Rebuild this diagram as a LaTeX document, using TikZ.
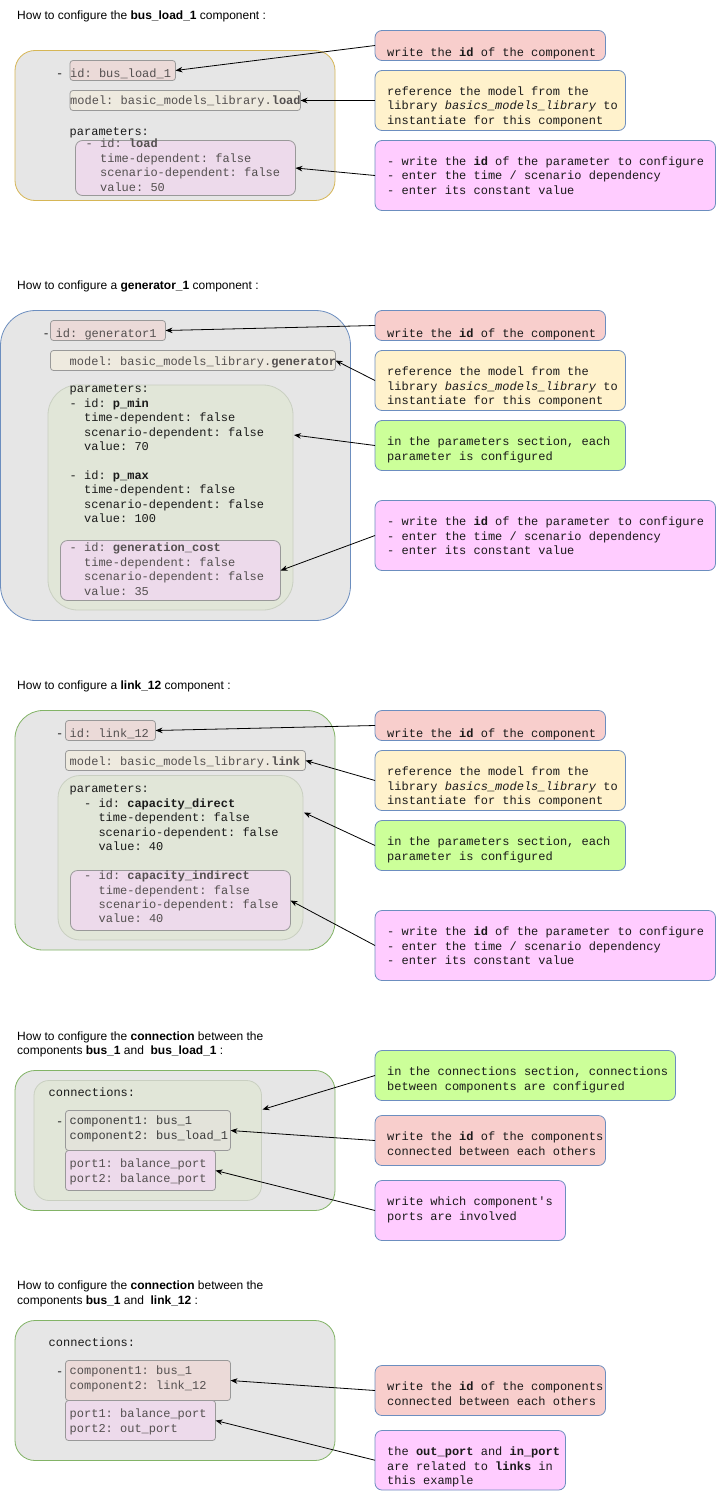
\documentclass[tikz,border=0pt]{standalone}
\usepackage{fontspec}
\setmainfont{Liberation Sans}
\setmonofont{Liberation Mono}
\usetikzlibrary{fit,calc,arrows.meta}
\definecolor{outergrey}{HTML}{E6E6E6}
\definecolor{ybord}{HTML}{D6B656}
\definecolor{bbord}{HTML}{6C8EBF}
\definecolor{gbord}{HTML}{82B366}
\definecolor{idfill}{HTML}{EBDAD8}
\definecolor{modfill}{HTML}{EEEADF}
\definecolor{parfill}{HTML}{EDDAEB}
\definecolor{grnfill}{HTML}{E1E6D8}
\definecolor{grnline}{HTML}{C9CFC1}
\definecolor{cmpfill}{HTML}{E3E3DA}
\definecolor{smline}{HTML}{999999}
\definecolor{redbox}{HTML}{F8CECC}
\definecolor{yelbox}{HTML}{FFF2CC}
\definecolor{pinkbox}{HTML}{FFCCFF}
\definecolor{limebox}{HTML}{CCFF99}
\definecolor{darktxt}{HTML}{1A1A1A}
\definecolor{greytxt}{HTML}{545050}
\tikzset{
  bx/.style={inner sep=0pt, outer sep=0pt, line width=0.8pt},
  outerbox/.style={bx, draw, fill=outergrey, rounded corners=#1},
  grnbox/.style={bx, draw=grnline, fill=grnfill, rounded corners=#1},
  smbox/.style={bx, draw=smline, fill=#1, rounded corners=3pt},
  notebox/.style={bx, draw=bbord, fill=#1, rounded corners=7pt},
  mtxt/.style={anchor=north west, inner sep=0pt, align=left, text=#1,
    font=\ttfamily\fontsize{12}{14.4}\selectfont, execute at begin node=\strut},
  mtxt/.default=darktxt,
  ttl/.style={anchor=north west, inner sep=0pt, align=left, text=black,
    font=\fontsize{12}{14.4}\selectfont, execute at begin node=\strut},
  arr/.style={-{Stealth[length=7pt,width=5.5pt]}, line width=0.8pt, black},
}
\newcommand{\ind}{\phantom{- }}
\begin{document}
\begin{tikzpicture}[x=1pt,y=-1pt]
\useasboundingbox (0,0) rectangle (716,1491);

% ---------------- Section 1 ----------------
\node[ttl] (t1) at (17,9) {How to configure the \textbf{bus\_load\_1} component :};
\node[outerbox=20pt, draw=ybord, fit={(15,50.5) (335,200.5)}] (o1) {};
\node[mtxt] (d1) at (56,67) {-};
\node[smbox=idfill, fit={(70,60.5) (175.5,80.5)}] (id1) {};
\node[mtxt=greytxt] (id1t) at (70,67) {id: bus\_load\_1};
\node[smbox=modfill, fit={(70,90.5) (300.5,110.5)}] (m1) {};
\node[mtxt=greytxt] (m1t) at (70,94.5) {model: basic\_models\_library.\textbf{load}};
\node[mtxt] (pp1) at (69.5,125) {parameters:};
\node[smbox=parfill, rounded corners=7pt, fit={(75.5,140.5) (295.5,195.5)}] (p1) {};
\node[mtxt=greytxt] (p1t) at (85.5,139) {- id: \textbf{load}\\\ind time-dependent: false\\\ind scenario-dependent: false\\\ind value: 50};

\node[notebox=redbox, fit={(375,30.5) (605.5,60.5)}] (a1) {};
\node[mtxt] (a1t) at (387,46.7) {write the \textbf{id} of the component};
\node[notebox=yelbox, fit={(375,70.5) (625.5,130.5)}] (a2) {};
\node[mtxt] (a2t) at (387,86.7) {reference the model from the\\library \textit{basics\_models\_library} to\\instantiate for this component};
\node[notebox=pinkbox, fit={(375,140.5) (715.5,210.5)}] (a3) {};
\node[mtxt] (a3t) at (387,156.7) {- write the \textbf{id} of the parameter to configure\\- enter the time / scenario dependency\\- enter its constant value};
\draw[arr] (a1.west) -- (id1.east);
\draw[arr] (a2.west) -- (m1.east);
\draw[arr] (a3.west) -- (p1.east);

% ---------------- Section 2 ----------------
\node[ttl] (t2) at (17,279) {How to configure a \textbf{generator\_1} component :};
\node[outerbox=35pt, draw=bbord, fit={(0.5,310.5) (350.5,620.5)}] (o2) {};
\node[mtxt] (d2) at (42.5,327) {-};
\node[smbox=idfill, fit={(50.5,320.5) (165.5,340.5)}] (gid) {};
\node[mtxt=greytxt] (gidt) at (55.5,327) {id: generator1};
\node[smbox=modfill, fit={(50.5,350.5) (335.5,370.5)}] (gmod) {};
\node[mtxt=greytxt] (gmodt) at (69.5,355) {model: basic\_models\_library.\textbf{generator}};
\node[grnbox=30pt, fit={(48,385) (293,610)}] (ggrn) {};
\node[mtxt] (gpt) at (69.5,384.7) {parameters:\\- id: \textbf{p\_min}\\\ind time-dependent: false\\\ind scenario-dependent: false\\\ind value: 70\\\mbox{}\\- id: \textbf{p\_max}\\\ind time-dependent: false\\\ind scenario-dependent: false\\\ind value: 100};
\node[smbox=parfill, rounded corners=7pt, fit={(60.5,540.5) (280.5,600.5)}] (gcost) {};
\node[mtxt=greytxt] (gcostt) at (69.5,543) {- id: \textbf{generation\_cost}\\\ind time-dependent: false\\\ind scenario-dependent: false\\\ind value: 35};
\coordinate (gT) at ($(ggrn.north east)+(1,50)$);

\node[notebox=redbox, fit={(375,310.5) (605.5,340.5)}] (b1) {};
\node[mtxt] (b1t) at (387,327) {write the \textbf{id} of the component};
\node[notebox=yelbox, fit={(375,350.5) (625.5,410.5)}] (b2) {};
\node[mtxt] (b2t) at (387,367) {reference the model from the\\library \textit{basics\_models\_library} to\\instantiate for this component};
\node[notebox=limebox, fit={(375,420.5) (625.5,470.5)}] (b3) {};
\node[mtxt] (b3t) at (387,436.7) {in the parameters section, each\\parameter is configured};
\node[notebox=pinkbox, fit={(375,500.5) (715.5,570.5)}] (b4) {};
\node[mtxt] (b4t) at (387,516.7) {- write the \textbf{id} of the parameter to configure\\- enter the time / scenario dependency\\- enter its constant value};
\draw[arr] (b1.west) -- (gid.east);
\draw[arr] (b2.west) -- (gmod.east);
\draw[arr] (b3.west) -- (gT);
\draw[arr] (b4.west) -- (gcost.east);

% ---------------- Section 3 ----------------
\node[ttl] (t3) at (17,679) {How to configure a \textbf{link\_12} component :};
\node[outerbox=28pt, draw=gbord, fit={(15,710.5) (335,950)}] (o3) {};
\node[mtxt] (d3) at (56,727) {-};
\node[smbox=idfill, fit={(65.5,720.5) (155.5,740.5)}] (lid) {};
\node[mtxt=greytxt] (lidt) at (69.5,727.5) {id: link\_12};
\node[smbox=modfill, fit={(65.5,750.5) (305.5,770.5)}] (lmod) {};
\node[mtxt=greytxt] (lmodt) at (69.5,755) {model: basic\_models\_library.\textbf{link}};
\node[grnbox=22pt, fit={(58,775.5) (303,940)}] (lgrn) {};
\node[mtxt] (lpt) at (69.5,784.7) {parameters:\\\ind - id: \textbf{capacity\_direct}\\\ind\ind time-dependent: false\\\ind\ind scenario-dependent: false\\\ind\ind value: 40};
\node[smbox=parfill, rounded corners=7pt, fit={(70.5,870.5) (290.5,930.5)}] (lind) {};
\node[mtxt=greytxt] (lindt) at (84,870.7) {- id: \textbf{capacity\_indirect}\\\ind time-dependent: false\\\ind scenario-dependent: false\\\ind value: 40};
\coordinate (lT) at ($(lgrn.north east)+(1,37)$);

\node[notebox=redbox, fit={(375,710.5) (605.5,740.5)}] (c1) {};
\node[mtxt] (c1t) at (387,727) {write the \textbf{id} of the component};
\node[notebox=yelbox, fit={(375,750.5) (625.5,810.5)}] (c2) {};
\node[mtxt] (c2t) at (387,767) {reference the model from the\\library \textit{basics\_models\_library} to\\instantiate for this component};
\node[notebox=limebox, fit={(375,820.5) (625.5,870.5)}] (c3) {};
\node[mtxt] (c3t) at (387,837) {in the parameters section, each\\parameter is configured};
\node[notebox=pinkbox, fit={(375,910.5) (715.5,980.5)}] (c4) {};
\node[mtxt] (c4t) at (387,927) {- write the \textbf{id} of the parameter to configure\\- enter the time / scenario dependency\\- enter its constant value};
\draw[arr] (c1.west) -- (lid.east);
\draw[arr] (c2.west) -- (lmod.east);
\draw[arr] (c3.west) -- (lT);
\draw[arr] (c4.west) -- (lind.east);

% ---------------- Section 4 ----------------
\node[ttl] (t4) at (17,1031.3) {How to configure the \textbf{connection} between the\\components \textbf{bus\_1} and\ \ \textbf{bus\_load\_1} :};
\node[outerbox=20pt, draw=gbord, fit={(15,1070.5) (335,1210.5)}] (o4) {};
\node[grnbox=15pt, fit={(34,1080.5) (261.5,1200.5)}] (cgrn) {};
\node[mtxt] (cct) at (48.5,1086.7) {connections:};
\node[mtxt] (d4) at (56,1115) {-};
\node[smbox=cmpfill, fit={(65.5,1110.5) (230.5,1150.5)}] (ccmp) {};
\node[mtxt=darktxt!85] (ccmpt) at (69.5,1115.7) {component1: bus\_1\\component2: bus\_load\_1};
\node[smbox=parfill, fit={(65.5,1150.5) (215.5,1190.5)}] (cport) {};
\node[mtxt=greytxt] (cportt) at (69.5,1159) {port1: balance\_port\\port2: balance\_port};
\coordinate (cT) at ($(cgrn.north east)+(1,29)$);

\node[notebox=limebox, fit={(375,1050.5) (675.5,1100.5)}] (e1) {};
\node[mtxt] (e1t) at (387,1066.7) {in the connections section, connections\\between components are configured};
\node[notebox=redbox, fit={(375,1115.5) (605.5,1165.5)}] (e2) {};
\node[mtxt] (e2t) at (387,1131.7) {write the \textbf{id} of the components\\connected between each others};
\node[notebox=pinkbox, fit={(375,1180.5) (565.5,1240.5)}] (e3) {};
\node[mtxt] (e3t) at (387,1196.7) {write which component's\\ports are involved};
\draw[arr] (e1.west) -- (cT);
\draw[arr] (e2.west) -- (ccmp.east);
\draw[arr] (e3.west) -- (cport.east);

% ---------------- Section 5 ----------------
\node[ttl] (t5) at (17,1281) {How to configure the \textbf{connection} between the\\components \textbf{bus\_1} and\ \ \textbf{link\_12} :};
\node[outerbox=20pt, draw=gbord, fit={(15,1320.5) (335,1460.5)}] (o5) {};
\node[mtxt] (kct) at (48.5,1336.7) {connections:};
\node[mtxt] (d5) at (56,1365) {-};
\node[smbox=idfill, fit={(65.5,1360.5) (230.5,1400.5)}] (kcmp) {};
\node[mtxt=greytxt] (kcmpt) at (69.5,1365.7) {component1: bus\_1\\component2: link\_12};
\node[smbox=parfill, fit={(65.5,1400.5) (215.5,1440.5)}] (kport) {};
\node[mtxt=greytxt] (kportt) at (69.5,1409) {port1: balance\_port\\port2: out\_port};

\node[notebox=redbox, fit={(375,1365.5) (605.5,1415.5)}] (f1) {};
\node[mtxt] (f1t) at (387,1381.7) {write the \textbf{id} of the components\\connected between each others};
\node[notebox=pinkbox, fit={(375,1430.5) (565.5,1490)}] (f2) {};
\node[mtxt] (f2t) at (387,1446.7) {the \textbf{out\_port} and \textbf{in\_port}\\are related to \textbf{links} in\\this example};
\draw[arr] (f1.west) -- (kcmp.east);
\draw[arr] (f2.west) -- (kport.east);
\end{tikzpicture}
\end{document}
